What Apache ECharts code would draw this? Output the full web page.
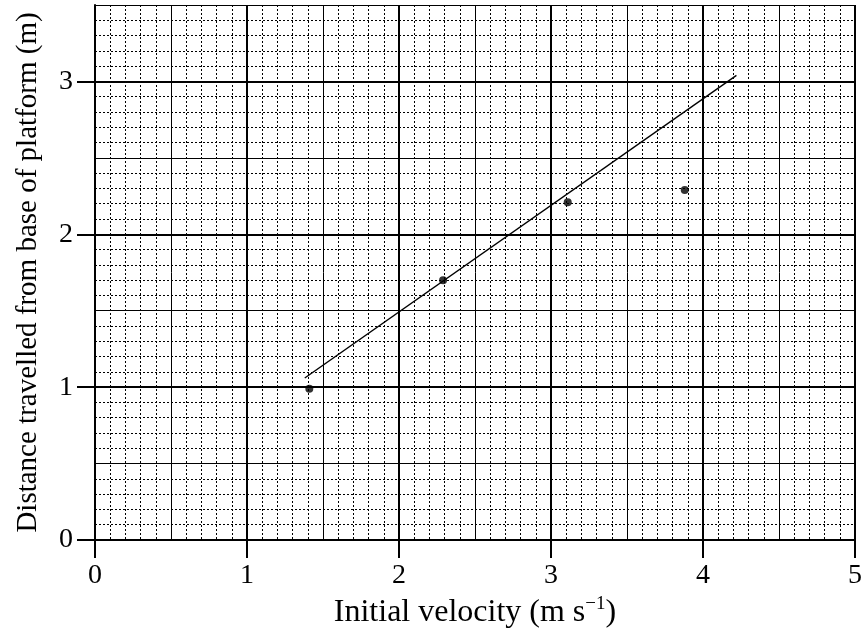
<!DOCTYPE html>
<html>
<head>
<meta charset="utf-8">
<script src="https://cdn.jsdelivr.net/npm/echarts@6/dist/echarts.min.js"></script>
<style>
  html, body { margin: 0; padding: 0; background: #fff; }
  #chart { width: 865px; height: 639px; }
</style>
</head>
<body>
<div id="chart"></div>
<script>
// measured points (velocity, distance)
var velocity = [1.41, 2.29, 3.11, 3.88];
var distance = [0.99, 1.70, 2.21, 2.29];
// hand-drawn best fit line end points
var fitX = [1.38, 4.22];
var fitY = [1.06, 3.04];
var xTicks = [0, 1, 2, 3, 4, 5];
var yTicks = [0, 1, 2, 3];

var chart = echarts.init(document.getElementById('chart'));
var serif = '"Liberation Serif", "DejaVu Serif", serif';

function pairs(xs, ys) {
  var out = [];
  for (var i = 0; i < xs.length; i++) out.push([xs[i], ys[i]]);
  return out;
}

// hidden axis only used for grid lines
function gridAxis(max, step, style, z, pos) {
  return {
    type: 'value', min: 0, max: max, interval: step, z: z, position: pos,
    axisLine: { show: false }, axisTick: { show: false }, axisLabel: { show: false },
    splitLine: { show: true, lineStyle: style }
  };
}

var option = {
  animation: false,
  grid: { left: 95, right: 7, top: 5, bottom: 99 },
  xAxis: [
    {
      type: 'value', min: 0, max: 5, interval: 1, z: 2, position: 'bottom',
      name: 'Initial velocity (m s{sup|\u22121})',
      nameLocation: 'middle', nameGap: 52,
      nameTextStyle: {
        color: '#000', fontFamily: serif, fontSize: 32, lineHeight: 36,
        rich: { sup: { fontSize: 19, fontFamily: serif, color: '#000', verticalAlign: 'top', lineHeight: 36 } }
      },
      axisLine: { show: true, onZero: false, lineStyle: { color: '#000', width: 2 } },
      axisTick: { show: true, inside: false, length: 18, customValues: xTicks, lineStyle: { color: '#000', width: 2 } },
      axisLabel: { customValues: xTicks, margin: 22, color: '#000', fontFamily: serif, fontSize: 28 },
      splitLine: { show: true, lineStyle: { color: '#000', width: 2 } }
    },
    gridAxis(5, 0.1, { color: '#000', width: 1, type: [2, 2] }, 0, 'top'),
    gridAxis(5, 0.5, { color: '#000', width: 1, type: 'solid' }, 1, 'top')
  ],
  yAxis: [
    {
      type: 'value', min: 0, max: 3.5, interval: 1, z: 2, position: 'left',
      name: 'Distance travelled from base of platform (m)',
      nameLocation: 'middle', nameGap: 52, nameRotate: 90,
      nameTextStyle: { color: '#000', fontFamily: serif, fontSize: 29 },
      axisLine: { show: true, onZero: false, lineStyle: { color: '#000', width: 2 } },
      axisTick: { show: true, inside: false, length: 18, customValues: yTicks, lineStyle: { color: '#000', width: 2 } },
      axisLabel: { customValues: yTicks, margin: 22, color: '#000', fontFamily: serif, fontSize: 28 },
      splitLine: { show: true, lineStyle: { color: '#000', width: 2 } }
    },
    gridAxis(3.5, 0.1, { color: '#000', width: 1, type: [2, 2] }, 0, 'right'),
    gridAxis(3.5, 0.5, { color: '#000', width: 1, type: 'solid' }, 1, 'right')
  ],
  series: [
    {
      type: 'line', xAxisIndex: 0, yAxisIndex: 0, z: 5,
      data: pairs(fitX, fitY), symbol: 'none',
      lineStyle: { color: '#000', width: 1.4 }
    },
    {
      type: 'scatter', xAxisIndex: 0, yAxisIndex: 0, z: 6,
      data: pairs(velocity, distance), symbolSize: 8,
      itemStyle: { color: '#000' }
    }
  ]
};
chart.setOption(option);
</script>
</body>
</html>
